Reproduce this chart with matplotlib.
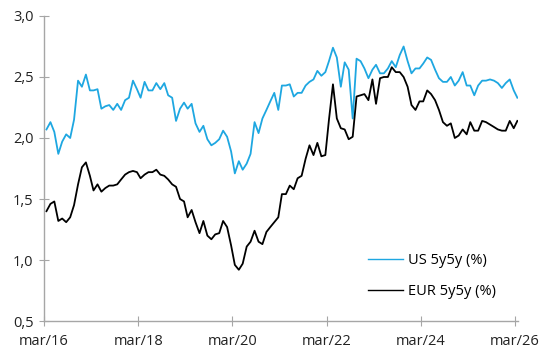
import matplotlib
matplotlib.use("Agg")
import matplotlib.pyplot as plt
import matplotlib.ticker as mticker
import pandas as pd

dates = pd.date_range("2016-03-01", periods=121, freq="MS") + pd.Timedelta(days=19)

us_5y5y = [2.07, 2.13, 2.05, 1.87, 1.97, 2.03, 2.00, 2.15, 2.47, 2.42,
           2.52, 2.39, 2.39, 2.40, 2.24, 2.26, 2.27, 2.23, 2.28, 2.23,
           2.31, 2.33, 2.47, 2.40, 2.33, 2.46, 2.39, 2.39, 2.45, 2.40,
           2.45, 2.35, 2.33, 2.14, 2.24, 2.29, 2.24, 2.28, 2.12, 2.05,
           2.10, 1.99, 1.94, 1.96, 1.99, 2.06, 2.01, 1.89, 1.71, 1.81,
           1.74, 1.79, 1.87, 2.13, 2.04, 2.16, 2.23, 2.30, 2.37, 2.23,
           2.43, 2.43, 2.44, 2.34, 2.37, 2.37, 2.43, 2.46, 2.48, 2.55,
           2.51, 2.54, 2.63, 2.74, 2.66, 2.42, 2.62, 2.56, 2.16, 2.65,
           2.63, 2.57, 2.49, 2.56, 2.60, 2.53, 2.53, 2.57, 2.63, 2.58,
           2.68, 2.75, 2.63, 2.53, 2.57, 2.57, 2.61, 2.66, 2.64, 2.56,
           2.49, 2.46, 2.46, 2.50, 2.43, 2.47, 2.54, 2.43, 2.43, 2.35,
           2.43, 2.47, 2.47, 2.48, 2.47, 2.45, 2.41, 2.45, 2.48, 2.39,
           2.33]

eur_5y5y = [1.40, 1.46, 1.48, 1.32, 1.34, 1.31, 1.35, 1.45, 1.62, 1.76,
            1.80, 1.69, 1.57, 1.62, 1.56, 1.59, 1.61, 1.61, 1.62, 1.66,
            1.70, 1.72, 1.73, 1.72, 1.67, 1.70, 1.72, 1.72, 1.74, 1.70,
            1.69, 1.66, 1.62, 1.60, 1.50, 1.48, 1.35, 1.41, 1.31, 1.22,
            1.32, 1.20, 1.17, 1.21, 1.22, 1.32, 1.27, 1.12, 0.96, 0.92,
            0.97, 1.11, 1.15, 1.24, 1.15, 1.13, 1.23, 1.27, 1.31, 1.35,
            1.54, 1.54, 1.61, 1.58, 1.67, 1.69, 1.83, 1.94, 1.86, 1.96,
            1.85, 1.86, 2.15, 2.44, 2.16, 2.08, 2.07, 1.99, 2.01, 2.34,
            2.35, 2.36, 2.31, 2.48, 2.28, 2.49, 2.50, 2.50, 2.58, 2.54,
            2.54, 2.50, 2.42, 2.27, 2.23, 2.30, 2.30, 2.39, 2.36, 2.31,
            2.23, 2.13, 2.10, 2.12, 2.00, 2.02, 2.07, 2.03, 2.13, 2.06,
            2.06, 2.14, 2.13, 2.11, 2.09, 2.07, 2.06, 2.06, 2.14, 2.08,
            2.14]

tick_years = [2016, 2018, 2020, 2022, 2024, 2026]
tick_labels = ["mar/16", "mar/18", "mar/20", "mar/22", "mar/24", "mar/26"]
y_ticks = [0.5, 1.0, 1.5, 2.0, 2.5, 3.0]

plt.rcParams['font.family'] = ['Open Sans', 'DejaVu Sans']

fig = plt.figure(figsize=(5.5, 3.6), dpi=100)
ax = fig.add_axes([0.08, 0.1083, 0.8618, 0.8473])

ax.plot(dates, us_5y5y, color="#1ea7e1", lw=1.3, label="US 5y5y (%)")
ax.plot(dates, eur_5y5y, color="black", lw=1.3, label="EUR 5y5y (%)")

ax.set_ylim(0.5, 3.0)
ax.set_xlim(pd.Timestamp("2016-03-01"), pd.Timestamp("2026-03-25"))
ax.set_yticks(y_ticks)
ax.yaxis.set_major_formatter(mticker.FuncFormatter(lambda v, p: f"{v:.1f}".replace(".", ",")))
ax.set_xticks([pd.Timestamp(f"{y}-03-01") for y in tick_years])
ax.set_xticklabels(tick_labels)

for s in ["top", "right"]:
    ax.spines[s].set_visible(False)
for s in ["left", "bottom"]:
    ax.spines[s].set_color("#a6a6a6")
    ax.spines[s].set_linewidth(1.0)
ax.tick_params(axis="both", direction="inout", length=7, width=0.8, color="#a6a6a6",
               labelsize=10.5, labelcolor="#222222")
ax.tick_params(axis="x", pad=6)
ax.tick_params(axis="y", pad=4)

leg = ax.legend(loc="lower left", bbox_to_anchor=(0.655, 0.03), frameon=False,
                fontsize=10.5, handlelength=2.4, handletextpad=0.4, labelspacing=1.05)
for l in leg.get_lines():
    l.set_linewidth(1.0)

fig.savefig("out.png", dpi=100)
